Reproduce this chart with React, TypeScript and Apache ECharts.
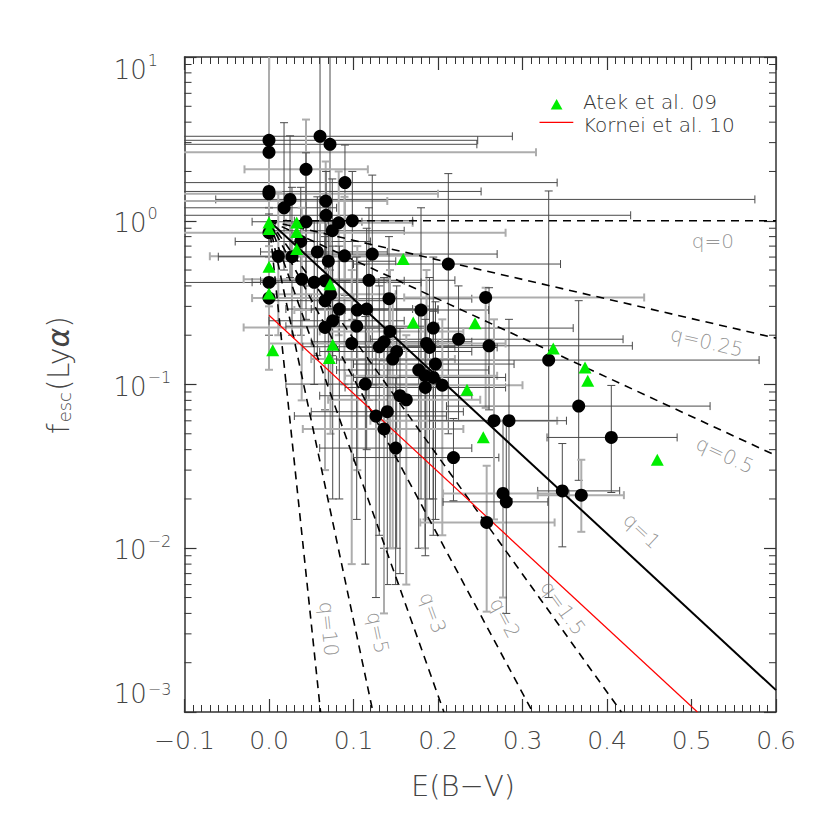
import React, { useEffect, useRef } from "react";
import * as echarts from "echarts";

// ---- Data -------------------------------------------------------------
// Black circles: E(B-V), f_esc and their error ranges
const circleE = [0, 0, 0.0604, 0.0722, 0.0438, 0.0899, 0, 0, 0.0249, 0.0178, 0.0671, 0.0675, 0.0438, 0.0825, 0.0986, 0.0749, 0, 0.0376, 0.0572, 0.011, 0.0272, 0.0702, 0.0893, 0.1222, 0, 0.0387, 0.0535, 0.0663, 0.0728, 0.1183, 0.142, 0, 0.0663, 0.0832, 0.1045, 0.1156, 0.1799, 0.2564, 0.2122, 0.0754, 0.0663, 0.1038, 0.1944, 0.1432, 0.2604, 0.2243, 0.0979, 0.1361, 0.1305, 0.1864, 0.1899, 0.1511, 0.1464, 0.197, 0.1772, 0.1846, 0.1944, 0.185, 0.2051, 0.114, 0.155, 0.1625, 0.14, 0.1266, 0.1361, 0.1499, 0.2183, 0.2576, 0.331, 0.3665, 0.2663, 0.284, 0.4051, 0.2769, 0.2808, 0.3471, 0.3696];
const circleF = [3.1, 2.62, 3.28, 2.93, 2.06, 1.71, 1.51, 1.46, 1.35, 1.2, 1.32, 1.08, 0.986, 0.972, 1.0, 0.869, 0.845, 0.747, 0.645, 0.607, 0.603, 0.566, 0.611, 0.626, 0.42, 0.439, 0.421, 0.43, 0.356, 0.433, 0.334, 0.337, 0.325, 0.289, 0.285, 0.289, 0.285, 0.34, 0.544, 0.245, 0.223, 0.227, 0.221, 0.211, 0.1724, 0.189, 0.178, 0.1824, 0.17, 0.178, 0.1684, 0.159, 0.143, 0.1333, 0.1226, 0.1131, 0.1104, 0.0959, 0.099, 0.1006, 0.0854, 0.0807, 0.0682, 0.0642, 0.0535, 0.0409, 0.0358, 0.01437, 0.141, 0.0738, 0.0601, 0.0601, 0.0475, 0.0216, 0.0192, 0.0224, 0.0211];
const circleELo = [-0.13, -0.13, -0.13, -0.13, -0.029, -0.13, -0.13, -0.13, -0.063, -0.13, -0.13, -0.13, -0.02, 0.02, 0.03, 0.0, -0.13, -0.04, -0.01, -0.07, -0.06, 0.0, 0.02, 0.03, -0.13, -0.03, -0.02, -0.01, 0.0, 0.04, 0.05, -0.02, 0.0, 0.02, 0.03, 0.05, 0.09, 0.16, 0.1, 0.0, -0.03, 0.02, 0.1, 0.06, 0.16, 0.12, 0.0, 0.05, 0.04, 0.1, 0.1, 0.06, 0.05, 0.1, 0.08, 0.09, 0.1, 0.09, 0.11, 0.02, 0.06, 0.07, 0.05, 0.03, 0.04, 0.06, 0.1, 0.179, 0.08, 0.21, 0.12, 0.19, 0.329, 0.206, 0.206, 0.318, 0.318];
const circleEHi = [0.247, 0.316, 0.288, 0.246, 0.117, 0.341, 0.251, 0.2, 0.575, 0.08, 0.14, 0.428, 0.11, 0.17, 0.17, 0.16, 0.28, 0.12, 0.14, 0.09, 0.12, 0.15, 0.18, 0.27, 0.18, 0.14, 0.13, 0.16, 0.15, 0.22, 0.24, 0.1, 0.14, 0.17, 0.2, 0.2, 0.26, 0.444, 0.345, 0.16, 0.13, 0.2, 0.36, 0.23, 0.43, 0.419, 0.2, 0.24, 0.22, 0.28, 0.27, 0.24, 0.22, 0.29, 0.26, 0.27, 0.28, 0.28, 0.3, 0.2, 0.24, 0.25, 0.23, 0.21, 0.23, 0.24, 0.272, 0.338, 0.58, 0.522, 0.341, 0.352, 0.483, 0.355, 0.33, 0.415, 0.42];
const circleFLo = [0.9, 1.2, 0.6, 0.5, 0.4, 0.35, 0.4, 0.6, 0.45, 0.5, 0.3, 0.3, 0.25, 0.2, 0.25, 0.15, 0.3, 0.2, 0.15, 0.2, 0.2, 0.1, 0.1, 0.1, 0.2, 0.08, 0.1, 0.07, 0.05, 0.08, 0.05, 0.123, 0.03, 0.02, 0.03, 0.04, 0.02, 0.072, 0.05, 0.02, 0.03, 0.015, 0.02, 0.01, 0.07, 0.06, 0.008, 0.01, 0.012, 0.015, 0.02, 0.01, 0.01, 0.015, 0.01, 0.01, 0.012, 0.009, 0.012, 0.008, 0.007, 0.006, 0.006, 0.005, 0.004, 0.006, 0.0195, 0.0041, 0.005, 0.026, 0.015, 0.02, 0.0219, 0.005, 0.004, 0.0102, 0.0126];
const circleFHi = [15, 15, 15, 15, 4.15, 2.9, 15, 15, 3.3, 3.97, 2.3, 2.0, 2.6, 2.0, 2.0, 1.8, 15, 1.6, 1.4, 1.5, 1.6, 1.3, 1.4, 1.9, 1.1, 1.2, 1.0, 1.0, 0.9, 1.2, 0.8, 0.7, 0.8, 0.7, 0.7, 0.9, 1.2, 0.39, 1.94, 0.7, 0.5, 0.6, 0.6, 0.5, 0.39, 0.4, 0.5, 0.45, 0.4, 0.5, 0.45, 0.4, 0.35, 0.32, 0.3, 0.3, 0.28, 0.25, 0.25, 0.26, 0.22, 0.2, 0.18, 0.16, 0.14, 0.11, 0.062, 0.0319, 1.52, 0.325, 0.25, 0.25, 0.0987, 0.06, 0.06, 0.0436, 0.0347];

// Atek et al. 09 (green triangles)
const atekE = [0, 0, 0.0328, 0.0328, 0.0328, 0, 0, 0.0722, 0.0044, 0.0754, 0.0714, 0.1588, 0.1707, 0.2438, 0.2343, 0.2536, 0.3364, 0.374, 0.3772, 0.4595];
const atekF = [0.976, 0.89, 0.976, 0.853, 0.672, 0.524, 0.36, 0.41, 0.162, 0.175, 0.145, 0.584, 0.239, 0.237, 0.0929, 0.0476, 0.166, 0.127, 0.1054, 0.0347];

// Kornei et al. 10 relation (red line end points)
const korneiE = [0, 0.507];
const korneiF = [0.265, 0.001];

// Model lines q = ... (start at E=0, f=1)
const modelQ = ["0", "0.25", "0.5", "1", "1.5", "2", "3", "5", "10"];
const modelEndE = [0.6, 0.6, 0.6, 0.6, 0.417, 0.312, 0.207, 0.123, 0.061];
const modelEndF = [1, 0.192, 0.0368, 0.00136, 0.001, 0.001, 0.001, 0.001, 0.001];
const modelLabelE = [0.5254, 0.5183, 0.5396, 0.4414, 0.348, 0.2793, 0.1941, 0.129, 0.071];
const modelLabelF = [0.755, 0.1824, 0.0372, 0.0128, 0.00433, 0.00376, 0.00404, 0.00305, 0.00322];
const modelLabelAngle = [0, -13, -25, -43, -54, -62, -70, -78, -84];

const legendNames = ["Atek et al. 09", "Kornei et al. 10"];

const xMin = -0.1;
const xMax = 0.6;
const xStep = 0.1;
const yMin = 0.001;
const yMax = 10;
const yMinorMultipliers = [2, 3, 4, 5, 6, 7, 8, 9];
const yDecades = [0.001, 0.01, 0.1, 1];

const FONT = "'DejaVu Sans', Lato, sans-serif";
const FW = 200;
const TXT = "#444444";

export default function App() {
  const ref = useRef<HTMLDivElement>(null);

  useEffect(() => {
    if (!ref.current) return;
    const chart = echarts.init(ref.current, undefined, { renderer: "svg" });

    const errData = circleE.map((e, i) => [e, circleF[i], circleELo[i], circleEHi[i], circleFLo[i], circleFHi[i]]);
    const minorY: number[][] = [];
    yDecades.forEach((d) => yMinorMultipliers.forEach((m) => minorY.push([xMin, +(m * d).toPrecision(3)])));

    const renderErr = (params: any, api: any) => {
      const x = api.value(0);
      const y = api.value(1);
      const c = api.coord([x, y]);
      const l = api.coord([api.value(2), y]);
      const r = api.coord([api.value(3), y]);
      const b = api.coord([x, api.value(4)]);
      const t = api.coord([x, api.value(5)]);
      const light = params.dataIndex % 3 === 1;
      const style = { stroke: light ? "#adadad" : "#4a4a4a", lineWidth: light ? 2 : 1, fill: null };
      const cap = 4;
      const L = (x1: number, y1: number, x2: number, y2: number) => ({ type: "line", shape: { x1, y1, x2, y2 }, style });
      return {
        type: "group",
        children: [
          L(l[0], c[1], r[0], c[1]),
          L(l[0], c[1] - cap, l[0], c[1] + cap),
          L(r[0], c[1] - cap, r[0], c[1] + cap),
          L(c[0], t[1], c[0], b[1]),
          L(c[0] - cap, t[1], c[0] + cap, t[1]),
          L(c[0] - cap, b[1], c[0] + cap, b[1]),
        ],
      };
    };

    const renderMinorY = (params: any, api: any) => {
      const p = api.coord([api.value(0), api.value(1)]);
      const cs = params.coordSys;
      const style = { stroke: "#333333", lineWidth: 1 };
      return {
        type: "group",
        children: [
          { type: "line", shape: { x1: cs.x, y1: p[1], x2: cs.x + 7, y2: p[1] }, style },
          { type: "line", shape: { x1: cs.x + cs.width - 7, y1: p[1], x2: cs.x + cs.width, y2: p[1] }, style },
        ],
      };
    };

    const xFmt = (v: number) => (v < -1e-9 ? "\u2212" : "") + Math.abs(v).toFixed(1);
    const yFmt = (v: number) => {
      const e = Math.round(Math.log10(v));
      const s = e < 0 ? "\u2212" + -e : String(e);
      if (e === 1) return `{pt| }{b|10}{s|${s}}`;
      if (e === -3) return `{pb| }{bb|10}{sb|${s}}`;
      return `{b|10}{s|${s}}`;
    };
    const txt = { fontFamily: FONT, fontWeight: FW, color: TXT };
    const base = { ...txt, fontSize: 26, lineHeight: 30, verticalAlign: "bottom" };
    const sup = { ...txt, fontSize: 16, lineHeight: 16, verticalAlign: "bottom", padding: [0, 0, 14, 1] };

    const axisLine = { show: true, onZero: false, lineStyle: { color: "#333333", width: 1.5 } };
    const xAxisCommon = {
      type: "value",
      min: xMin,
      max: xMax,
      interval: xStep,
      axisLine,
      axisTick: { show: true, inside: true, length: 13, lineStyle: { color: "#333333", width: 1.2 } },
      minorTick: { show: true, splitNumber: 10, length: 7, lineStyle: { color: "#333333", width: 1 } },
      splitLine: { show: false },
      minorSplitLine: { show: false },
    };
    const yAxisCommon = {
      type: "log",
      logBase: 10,
      min: yMin,
      max: yMax,
      axisLine,
      axisTick: { show: true, inside: true, length: 12, lineStyle: { color: "#333333", width: 1.2 } },
      splitLine: { show: false },
    };

    const option: any = {
      animation: false,
      backgroundColor: "#ffffff",
      grid: { left: 184.5, right: 54, top: 57, bottom: 118, containLabel: false },
      xAxis: [
        { ...xAxisCommon, position: "bottom", axisLabel: { show: true, margin: 16, fontSize: 25, ...txt, formatter: xFmt } },
        { ...xAxisCommon, position: "top", axisLabel: { show: false } },
      ],
      yAxis: [
        {
          ...yAxisCommon,
          position: "left",
          axisLabel: {
            show: true,
            align: "left",
            margin: 71,
            formatter: yFmt,
            rich: {
              b: base,
              s: sup,
              pt: { fontSize: 1, lineHeight: 51, verticalAlign: "bottom" },
              pb: { fontSize: 1, lineHeight: 62, verticalAlign: "top" },
              bb: { ...base, verticalAlign: "top" },
              sb: { ...txt, fontSize: 16, lineHeight: 16, verticalAlign: "top", padding: [0, 0, 0, 1] },
            },
          },
        },
        { ...yAxisCommon, position: "right", axisLabel: { show: false } },
      ],
      graphic: [
        // legend
        {
          type: "polygon",
          shape: { points: [[550.7, 109.5], [562.5, 109.5], [556.6, 99]] },
          style: { fill: "#00ee00" },
        },
        { type: "line", shape: { x1: 539.5, y1: 122.3, x2: 573.3, y2: 122.3 }, style: { stroke: "#ff0000", lineWidth: 1.2 } },
        {
          type: "text",
          x: 583,
          y: 102,
          style: { text: legendNames[0], fontSize: 20, lineHeight: 20, fontFamily: FONT, fontWeight: FW, fill: "#333333", align: "left", verticalAlign: "middle" },
        },
        {
          type: "text",
          x: 583,
          y: 124.5,
          style: { text: legendNames[1], fontSize: 20, lineHeight: 20, fontFamily: FONT, fontWeight: FW, fill: "#333333", align: "left", verticalAlign: "middle" },
        },
        {
          type: "text",
          x: 463,
          y: 786,
          style: { text: "E(B\u2212V)", fontSize: 29, fontFamily: FONT, fontWeight: FW, fill: TXT, align: "center", verticalAlign: "middle" },
        },
        {
          type: "text",
          x: 55,
          y: 375,
          rotation: Math.PI / 2,
          style: {
            text: "{a|f}{s|esc}{a|(Ly}{g|\u03b1}{a|)}",
            align: "center",
            verticalAlign: "middle",
            fill: TXT,
            rich: {
              a: { fontSize: 30, lineHeight: 36, verticalAlign: "bottom", fontFamily: FONT, fontWeight: FW, fill: TXT },
              g: { fontSize: 30, lineHeight: 36, verticalAlign: "bottom", fontFamily: FONT, fontStyle: "italic", fontWeight: FW, fill: TXT },
              s: { fontSize: 18, lineHeight: 18, verticalAlign: "bottom", fontFamily: FONT, fontWeight: FW, fill: TXT, padding: [0, 1, 0, 1] },
            },
          },
        },
      ],
      series: [
        {
          type: "custom",
          name: "errors",
          renderItem: renderErr,
          data: errData,
          encode: { x: 0, y: 1 },
          clip: true,
          silent: true,
          z: 1,
        },
        ...modelQ.map((q, i) => ({
          type: "line",
          name: "q=" + q,
          data: [
            [0, 1],
            [modelEndE[i], modelEndF[i]],
          ],
          symbol: "none",
          silent: true,
          clip: true,
          z: 2,
          lineStyle: q === "1" ? { color: "#000000", width: 2, type: "solid" } : { color: "#000000", width: 1.6, type: [8, 6] },
        })),
        {
          type: "line",
          name: legendNames[1],
          data: korneiE.map((e, i) => [e, korneiF[i]]),
          symbol: "none",
          clip: true,
          z: 2,
          lineStyle: { color: "#ff0000", width: 1.2 },
        },
        {
          type: "scatter",
          name: "sample",
          data: circleE.map((e, i) => [e, circleF[i]]),
          symbol: "circle",
          symbolSize: 13,
          itemStyle: { color: "#000000", opacity: 1 },
          z: 3,
        },
        {
          type: "scatter",
          name: legendNames[0],
          data: atekE.map((e, i) => [e, atekF[i]]),
          symbol: "triangle",
          symbolSize: [13, 12],
          itemStyle: { color: "#00ee00", opacity: 1 },
          z: 4,
        },
        {
          type: "scatter",
          name: "qlabels",
          silent: true,
          symbolSize: 0,
          z: 5,
          data: modelQ.map((q, i) => ({
            value: [modelLabelE[i], modelLabelF[i]],
            label: { formatter: "q=" + q, rotate: modelLabelAngle[i] },
          })),
          label: { show: true, position: "inside", fontSize: 20, fontFamily: FONT, fontWeight: FW, color: "#7a7a7a" },
        },
        {
          type: "custom",
          name: "minorY",
          renderItem: renderMinorY,
          data: minorY,
          encode: { x: 0, y: 1 },
          silent: true,
          clip: false,
          z: 5,
        },
      ],
    };

    chart.setOption(option);
    return () => chart.dispose();
  }, []);

  return <div ref={ref} style={{ position: "fixed", left: 0, top: 0, width: 830, height: 830 }} />;
}
